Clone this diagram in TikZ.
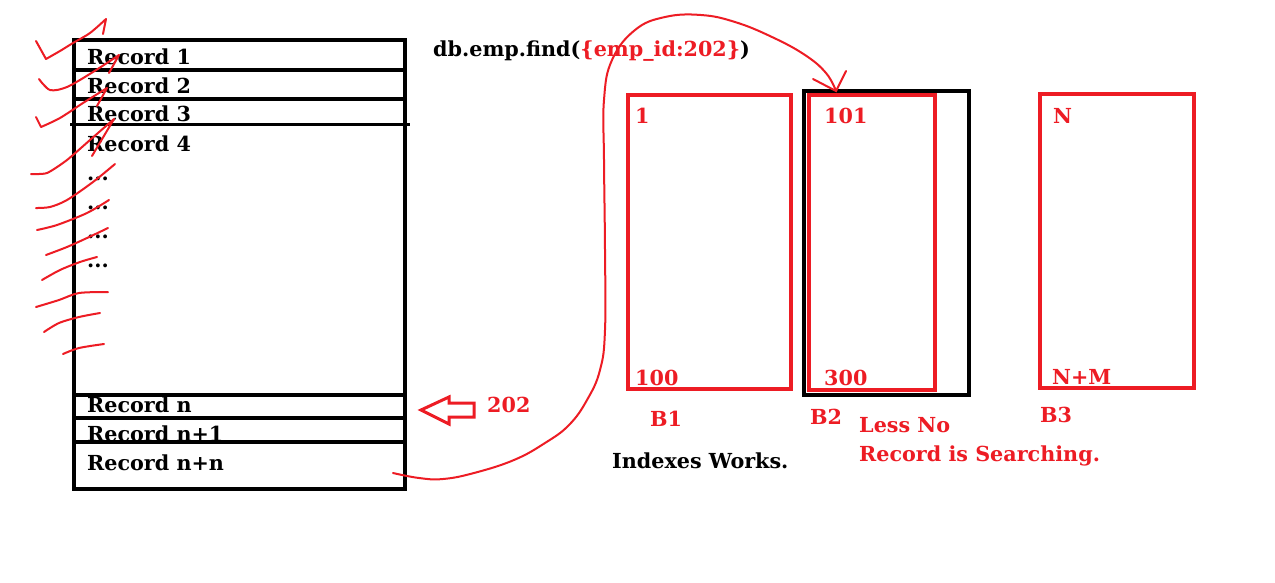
\documentclass[tikz,border=0pt]{standalone}
\usepackage{fontspec}
\setmainfont{DejaVu Serif}
\definecolor{pred}{HTML}{ED1C24}
\begin{document}
\begin{tikzpicture}[x=1pt,y=-1pt,
  txt/.style={anchor=base west,inner sep=0pt,font=\bfseries\fontsize{20.7}{21}\selectfont},
  rtxt/.style={txt,text=pred},
  tbl/.style={draw=black,line width=4pt},
  rbox/.style={draw=pred,line width=4pt},
  scribble/.style={draw=pred,line width=2pt,line cap=round,line join=round}]
\useasboundingbox[fill=white] (0,0) rectangle (1275,582);
% table
\draw[tbl] (74,40) rectangle (405,489);
\draw[tbl] (74,70) -- (405,70);
\draw[tbl] (74,98.5) -- (405,98.5);
\draw[black,line width=3pt] (70,124) -- (410,124);
\draw[tbl] (74,395) -- (405,395);
\draw[tbl] (74,418) -- (405,418);
\draw[tbl] (74,442) -- (405,442);
\node[txt] (r1) at (87,64) {Record 1};
\node[txt] (r2) at (87,93) {Record 2};
\node[txt] (r3) at (87,121) {Record 3};
\node[txt] (r4) at (87,151) {Record 4};
\node[txt] (d1) at (87,180) {...};
\node[txt] (d2) at (87,209) {...};
\node[txt] (d3) at (87,238) {...};
\node[txt] (d4) at (87,267) {...};
\node[txt] (rn) at (87,412) {Record n};
\node[txt] (rn1) at (87,441) {Record n+1};
\node[txt] (rnn) at (87,470) {Record n+n};
% scribbles
\draw[scribble] (36,41) -- (46,59) -- plot[smooth,tension=0.5] coordinates {(46,59) (60,51) (73,43) (90,33) (106,19)} -- (103,34);
\draw[scribble] (39,79) -- plot[smooth,tension=0.5] coordinates {(39,79) (50,90) (67,87) (93,72) (119,55)} -- (109,73);
\draw[scribble] (36,117) -- (41,127) -- plot[smooth,tension=0.5] coordinates {(41,127) (60,118) (83,103) (107,88)} -- (97,106);
\draw[scribble] plot[smooth,tension=0.4] coordinates {(31,174) (47,173) (67,160) (90,140) (114,119)} -- (92,156);
\draw[scribble] plot[smooth,tension=0.5] coordinates {(36,208) (50,207) (67,200) (93,182) (115,164)};
\draw[scribble] plot[smooth,tension=0.5] coordinates {(37,230) (57,225) (87,213) (109,200)};
\draw[scribble] plot[smooth,tension=0.5] coordinates {(46,255) (67,247) (87,238) (108,228)};
\draw[scribble] plot[smooth,tension=0.5] coordinates {(42,280) (60,270) (80,262) (97,257)};
\draw[scribble] plot[smooth,tension=0.5] coordinates {(36,307) (59,300) (79,293) (108,292)};
\draw[scribble] plot[smooth,tension=0.5] coordinates {(44,332) (59,323) (79,317) (100,313)};
\draw[scribble] plot[smooth,tension=0.5] coordinates {(63,354) (79,348) (104,344)};
% hollow arrow + 202
\draw[pred,line width=3pt,line join=miter] (421,410) -- (449,397) -- (449,403) -- (474,403) -- (474,417) -- (449,417) -- (449,424) -- cycle;
\node[rtxt] (n202) at (487,412) {202};
% query
\node[txt] (q) at (433,56) {db.emp.find(\textcolor{pred}{\{emp\_id:202\}})};
% buckets
\node[rbox,minimum width=163pt,minimum height=294pt,inner sep=0pt] (b1) at (709.5,242) {};
\node[tbl,minimum width=165pt,minimum height=304pt,inner sep=0pt] (b2o) at (886,243) {};
\node[rbox,minimum width=126pt,minimum height=295pt,inner sep=0pt] (b2) at (872,242.5) {};
\node[rbox,minimum width=154pt,minimum height=294pt,inner sep=0pt] (b3) at (1117,241) {};
\node[rtxt] (l1) at (635,123) {1};
\node[rtxt] (l100) at (635,385) {100};
\node[rtxt] (l101) at (824,123) {101};
\node[rtxt] (l300) at (824,385) {300};
\node[rtxt] (lN) at (1053,123) {N};
\node[rtxt] (lNM) at (1052,384) {N+M};
\node[rtxt] (tb1) at (650,426) {B1};
\node[rtxt] (tb2) at (810,424) {B2};
\node[rtxt] (tb3) at (1040,422) {B3};
\node[rtxt] (less) at (859,432) {Less No};
\node[rtxt] (srch) at (859,461) {Record is Searching.};
\node[txt] (idx) at (612,468) {Indexes Works.};
% curve
\coordinate (cs) at (393,473);
\coordinate (ce) at (836,91);
\draw[pred,line width=2pt,line cap=round] plot[smooth,tension=0.7] coordinates {(cs) (419,478) (443,479) (474,473) (514,460) (545,443) (569,425) (587,400) (600,370) (605,330) (605,250) (604,160) (604,100) (612,60) (635,30) (665,17) (701,15) (735,22) (772,37) (805,55) (826,73) (ce)};
\draw[pred,line width=2pt,line cap=round] (813,79) -- (ce) -- (846,71);
\end{tikzpicture}
\end{document}
